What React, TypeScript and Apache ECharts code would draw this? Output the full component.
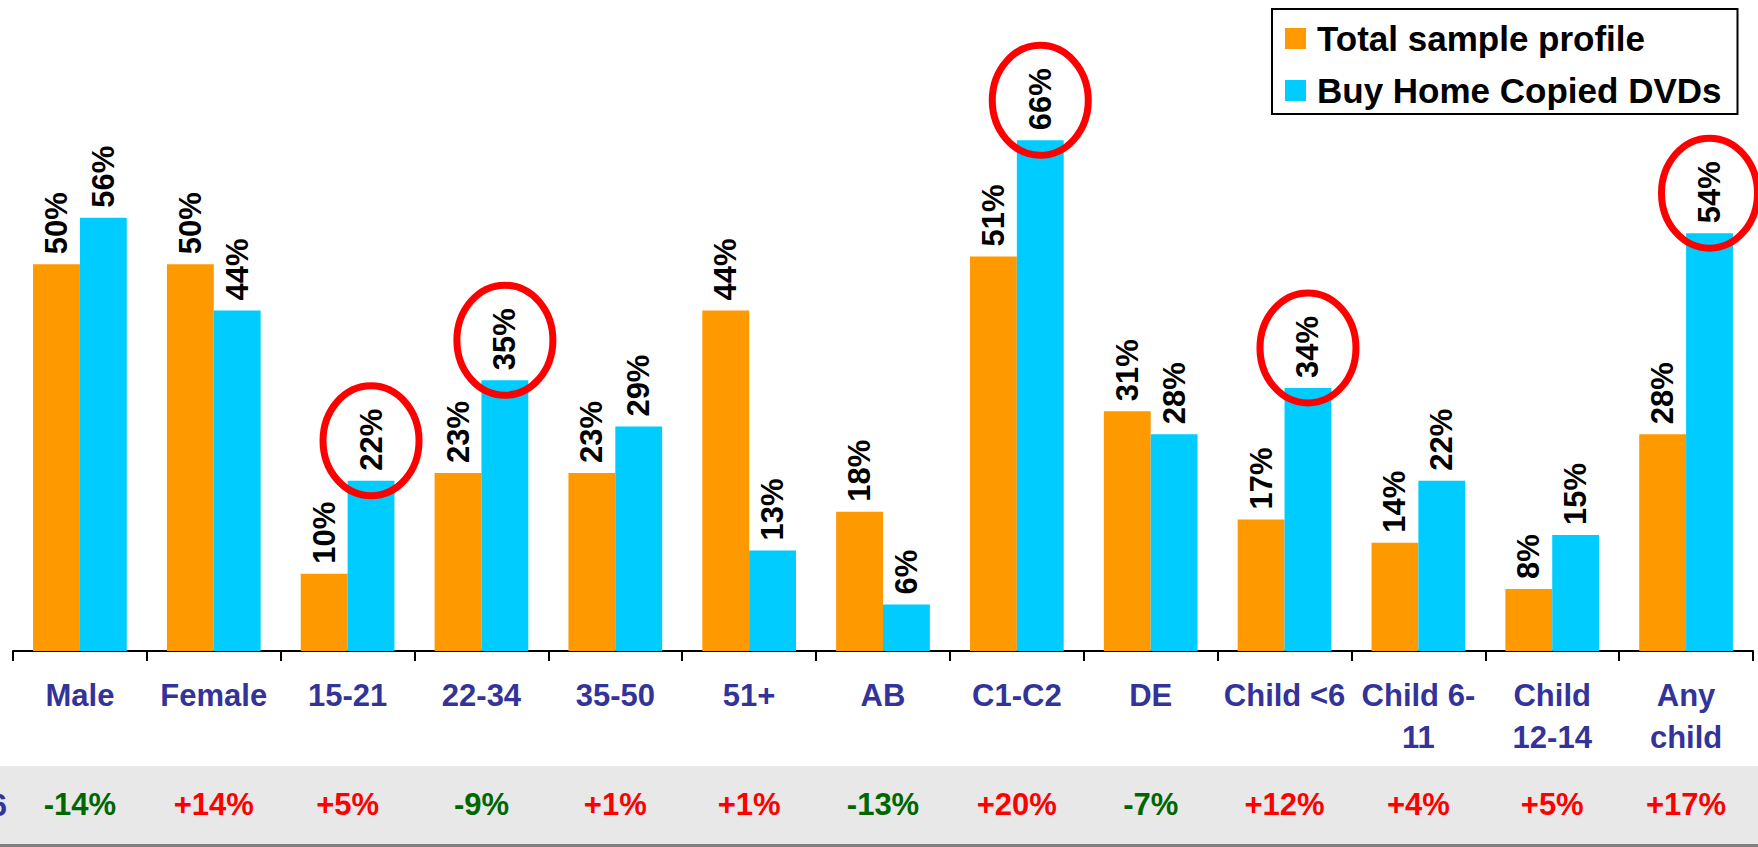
import React, { useEffect, useRef } from "react";
import * as echarts from "echarts";

const categories = [
  "Male", "Female", "15-21", "22-34", "35-50", "51+", "AB", "C1-C2", "DE",
  "Child <6", "Child 6-\n11", "Child\n12-14", "Any\nchild",
];
const totalSample = [50, 50, 10, 23, 23, 44, 18, 51, 31, 17, 14, 8, 28];
const buyCopied = [56, 44, 22, 35, 29, 13, 6, 66, 28, 34, 22, 15, 54];
const deltas = ["-14%", "+14%", "+5%", "-9%", "+1%", "+1%", "-13%", "+20%", "-7%", "+12%", "+4%", "+5%", "+17%"];
const circledIdx = [2, 3, 7, 9, 12];
const seriesNames = ["Total sample profile", "Buy Home Copied DVDs"];

const FONT = "'Liberation Sans', Arial, sans-serif";
const ORANGE = "#FF9900";
const CYAN = "#00CCFF";
const AXIS_BLUE = "#333399";

export default function App() {
  const ref = useRef<HTMLDivElement>(null);

  useEffect(() => {
    if (!ref.current) return;
    const chart = echarts.init(ref.current, undefined, { renderer: "svg" });

    const labelStyle = {
      show: true,
      position: "top",
      rotate: 90,
      align: "left",
      verticalAlign: "middle",
      distance: 10,
      formatter: "{c}%",
      color: "#000",
      fontSize: 31,
      fontWeight: "bold",
      fontFamily: FONT,
    };

    const option: any = {
      animation: false,
      backgroundColor: "#fff",
      grid: { left: 13, right: 5, top: 32, bottom: 196, containLabel: false },
      legend: {
        data: seriesNames,
        orient: "vertical",
        left: 1272,
        top: 9,
        padding: [12, 16, 6, 13],
        itemGap: 17,
        itemWidth: 21,
        itemHeight: 21,
        icon: "rect",
        borderColor: "#000",
        borderWidth: 2,
        backgroundColor: "#fff",
        textStyle: {
          fontSize: 35,
          fontWeight: "bold",
          color: "#000",
          fontFamily: FONT,
          padding: [0, 0, 0, 6],
          lineHeight: 35,
        },
      },
      xAxis: [
        {
          type: "category",
          data: categories,
          position: "bottom",
          axisLine: { show: true, lineStyle: { color: "#000", width: 2 } },
          axisTick: { show: true, length: 10, lineStyle: { color: "#000", width: 2 } },
          axisLabel: {
            interval: 0,
            margin: 23,
            color: AXIS_BLUE,
            fontSize: 31,
            fontWeight: "bold",
            fontFamily: FONT,
            lineHeight: 42,
          },
        },
        {
          type: "category",
          data: deltas,
          position: "bottom",
          offset: 0,
          axisLine: { show: false },
          axisTick: { show: false },
          axisLabel: {
            interval: 0,
            margin: 138,
            fontSize: 31,
            fontWeight: "bold",
            fontFamily: FONT,
            lineHeight: 31,
            color: (v: string) => (String(v).startsWith("-") ? "#006600" : "#FF0000"),
          },
        },
      ],
      yAxis: { type: "value", min: 0, max: 80, show: false },
      graphic: [
        {
          type: "rect",
          z: -10,
          shape: { x: 0, y: 766, width: 1758, height: 79 },
          style: { fill: "#E8E8E8" },
        },
        {
          type: "rect",
          z: -10,
          shape: { x: 0, y: 844, width: 1758, height: 3 },
          style: { fill: "#808080" },
        },
        {
          type: "text",
          x: 7,
          y: 805,
          style: {
            text: "6",
            align: "right",
            verticalAlign: "middle",
            fill: AXIS_BLUE,
            font: `bold 31px ${FONT}`,
          },
        },
      ],
      series: [
        {
          name: seriesNames[0],
          type: "bar",
          data: totalSample,
          barGap: "0%",
          barCategoryGap: "30%",
          itemStyle: { color: ORANGE },
          label: labelStyle,
        },
        {
          name: seriesNames[1],
          type: "bar",
          data: buyCopied,
          barGap: "0%",
          barCategoryGap: "30%",
          itemStyle: { color: CYAN },
          label: labelStyle,
        },
        {
          name: "circled",
          type: "custom",
          clip: false,
          z: 5,
          silent: true,
          data: circledIdx.map((i) => [i, buyCopied[i]]),
          encode: { x: 0, y: 1 },
          renderItem: (params: any, api: any) => {
            const pt = api.coord([api.value(0), api.value(1)]);
            const band = api.size([1, 0])[0];
            return {
              type: "ellipse",
              shape: { cx: pt[0] + band * 0.175, cy: pt[1] - 40, rx: 48, ry: 55 },
              style: { fill: "none", stroke: "#FF0000", lineWidth: 7 },
            };
          },
        },
      ],
    };

    chart.setOption(option);
    return () => chart.dispose();
  }, []);

  return (
    <div
      ref={ref}
      style={{ position: "fixed", left: 0, top: 0, width: 1758, height: 847 }}
    />
  );
}
